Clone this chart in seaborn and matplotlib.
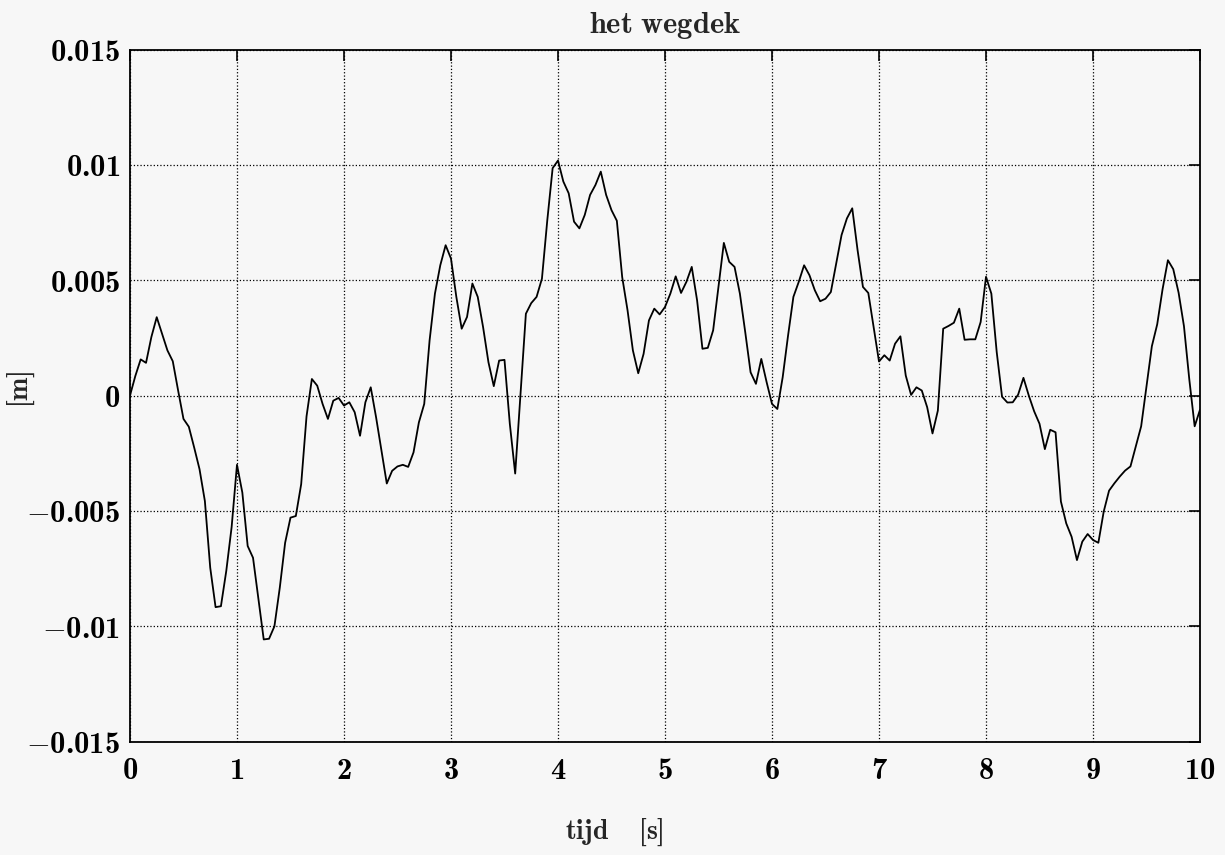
import numpy as np
import matplotlib
matplotlib.use('Agg')
import matplotlib.pyplot as plt
import seaborn as sns

# road profile samples (mm), every 0.05 s, split per second
v_0_1 = [0.0, 0.85, 1.57, 1.42, 2.54, 3.40, 2.68, 1.96, 1.49, 0.22,
         -1.01, -1.35, -2.25, -3.19, -4.57, -7.46, -9.17, -9.13, -7.60, -5.70]
v_1_2 = [-3.00, -4.20, -6.52, -7.03, -8.80, -10.57, -10.54, -10.00, -8.33, -6.38,
         -5.29, -5.22, -3.84, -0.90, 0.72, 0.43, -0.36, -1.01, -0.22, -0.10]
v_2_3 = [-0.43, -0.29, -0.72, -1.74, -0.29, 0.36, -0.94, -2.39, -3.81, -3.26,
         -3.07, -3.00, -3.09, -2.46, -1.16, -0.36, 2.39, 4.42, 5.65, 6.52]
v_3_4 = [5.94, 4.28, 2.90, 3.41, 4.86, 4.28, 2.97, 1.45, 0.41, 1.52,
         1.55, -1.23, -3.38, 0.07, 3.55, 4.01, 4.28, 5.07, 7.60, 9.86]
v_4_5 = [10.19, 9.28, 8.77, 7.54, 7.25, 7.83, 8.70, 9.13, 9.71, 8.70,
         8.04, 7.58, 5.14, 3.70, 1.96, 0.97, 1.81, 3.26, 3.77, 3.52]
v_5_6 = [3.84, 4.42, 5.17, 4.45, 4.93, 5.58, 4.13, 2.03, 2.07, 2.83,
         4.71, 6.62, 5.80, 5.58, 4.42, 2.75, 1.01, 0.51, 1.59, 0.58]
v_6_7 = [-0.36, -0.58, 0.80, 2.60, 4.28, 4.93, 5.65, 5.22, 4.57, 4.09,
         4.20, 4.49, 5.72, 6.96, 7.68, 8.12, 6.30, 4.71, 4.45, 2.97]
v_7_8 = [1.48, 1.75, 1.52, 2.25, 2.57, 0.87, 0.03, 0.36, 0.22, -0.50,
         -1.64, -0.65, 2.90, 3.02, 3.16, 3.77, 2.42, 2.44, 2.44, 3.19]
v_8_10 = [5.15, 4.42, 1.89, -0.05, -0.30, -0.29, 0.04, 0.77, 0.0, -0.68,
          -1.22, -2.32, -1.48, -1.59, -4.59, -5.54, -6.12, -7.13, -6.33, -6.00,
          -6.26, -6.38, -5.03, -4.12, -3.80, -3.51, -3.25, -3.07, -2.20, -1.33,
          0.41, 2.14, 3.09, 4.61, 5.87, 5.48, 4.46, 3.01, 0.70, -1.33,
          -0.61]

wegdek_mm = v_0_1 + v_1_2 + v_2_3 + v_3_4 + v_4_5 + v_5_6 + v_6_7 + v_7_8 + v_8_10
tijd = np.linspace(0, 10, len(wegdek_mm))
wegdek = np.array(wegdek_mm) / 1000.0

xticks = [0, 1, 2, 3, 4, 5, 6, 7, 8, 9, 10]
yticks = [-0.015, -0.01, -0.005, 0, 0.005, 0.01, 0.015]
ytick_labels = ['-0.015', '-0.01', '-0.005', '0', '0.005', '0.01', '0.015']

sns.set_theme(style='white')
# bold computer modern for everything, minus sign falls back to cmsy10
plt.rcParams['mathtext.fontset'] = 'custom'
plt.rcParams['mathtext.rm'] = 'cmb10'
plt.rcParams['mathtext.bf'] = 'cmb10'
plt.rcParams['mathtext.it'] = 'cmb10'
plt.rcParams['mathtext.fallback'] = 'cm'
bg = '#f7f7f7'

fig = plt.figure(figsize=(12.25, 8.55), dpi=100, facecolor=bg)
ax = fig.add_axes([0.1061, 0.1326, 0.8735, 0.8094])
ax.set_facecolor(bg)

sns.lineplot(x=tijd, y=wegdek, ax=ax, color='black', linewidth=1.3, estimator=None)

ax.set_xlim(0, 10)
ax.set_ylim(-0.015, 0.015)
ax.set_xticks(xticks)
ax.set_xticklabels([r'$\mathrm{%d}$' % x for x in xticks])
ax.set_yticks(yticks)
ax.set_yticklabels([r'$\mathrm{%s}$' % s for s in ytick_labels])

ax.grid(True, color='black', linestyle=':', linewidth=0.9)
for sp in ax.spines.values():
    sp.set_color('black')
    sp.set_linewidth(1.3)
ax.tick_params(direction='in', length=8, width=1.2, top=True, right=True,
               labelsize=22, colors='black')
ax.tick_params(axis='x', pad=10)
ax.tick_params(axis='y', pad=7)

ax.set_title(r'$\mathrm{het\ wegdek}$', fontsize=22, pad=12)
ax.set_xlabel(r'$\mathrm{tijd\ \ \ \ [s]}$', fontsize=20)
ax.xaxis.set_label_coords(0.453, -0.109)
ax.set_ylabel(r'$\mathrm{[m]}$', fontsize=20)
ax.yaxis.set_label_coords(-0.087, 0.51)

fig.savefig('out.png', dpi=100, facecolor=bg)
